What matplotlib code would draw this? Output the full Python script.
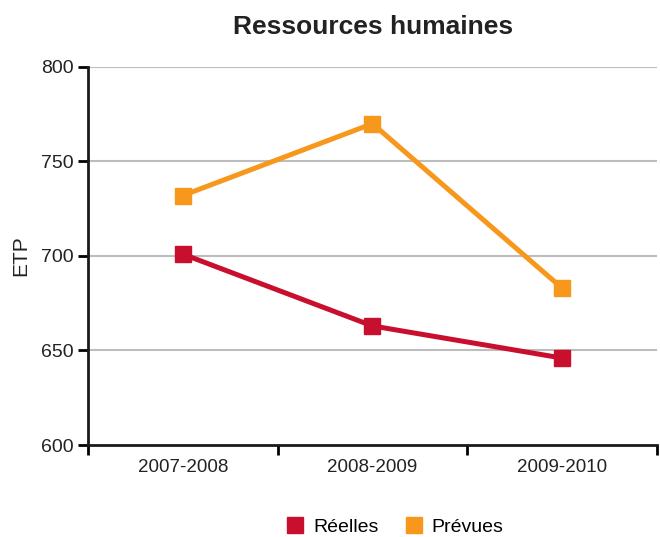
import matplotlib
matplotlib.use('Agg')
import matplotlib.pyplot as plt
from matplotlib.lines import Line2D

plt.rcParams['font.family'] = ['Liberation Sans', 'DejaVu Sans']

periods = ['2007-2008', '2008-2009', '2009-2010']
reelles = [701, 663, 646]
prevues = [732, 770, 683]

RED = '#C8102E'
ORANGE = '#F7981D'

fig = plt.figure(figsize=(6.6, 5.37), dpi=100)
ax = fig.add_axes([0.1333, 0.1713, 0.862, 0.704])

x = list(range(len(periods)))
ax.plot(x, reelles, color=RED, lw=3.6, marker='s', ms=12, mec=RED, zorder=3)
ax.plot(x, prevues, color=ORANGE, lw=3.6, marker='s', ms=12, mec=ORANGE, zorder=3)

ax.set_xlim(-0.5, len(periods) - 0.5)
ax.set_ylim(600, 800)
ax.set_yticks([600, 650, 700, 750, 800])
for v in [650, 700, 750, 800]:
    ax.axhline(v, color='#BDBDBD', lw=1.5, zorder=1)

# category labels on minor ticks, tick marks between categories
ax.set_xticks([i - 0.5 for i in range(len(periods) + 1)])
ax.set_xticklabels([])
ax.set_xticks(x, minor=True)
ax.set_xticklabels(periods, minor=True, fontsize=13.5, color='#222222')
ax.tick_params(axis='x', which='minor', length=0, pad=10)
ax.tick_params(axis='x', which='major', length=7, width=2, direction='out')
ax.tick_params(axis='y', length=7, width=2, labelsize=14, pad=3, labelcolor='#222222')

for s in ['top', 'right']:
    ax.spines[s].set_visible(False)
for s in ['left', 'bottom']:
    ax.spines[s].set_linewidth(2)
    ax.spines[s].set_color('#1a1a1a')
    ax.spines[s].set_zorder(4)

ax.set_ylabel('ETP', fontsize=15, labelpad=8, color='#222222')
fig.suptitle('Ressources humaines', fontsize=19, fontweight='bold', y=0.972, x=0.565, color='#222222')

handles = [Line2D([], [], ls='none', marker='s', ms=12, color=RED),
           Line2D([], [], ls='none', marker='s', ms=12, color=ORANGE)]
fig.legend(handles, ['Réelles', 'Prévues'], loc='lower center', bbox_to_anchor=(0.598, -0.03),
           ncol=2, frameon=False, fontsize=14, handlelength=1.0, handletextpad=0.4,
           columnspacing=1.35)

fig.savefig('out.png', dpi=100)
